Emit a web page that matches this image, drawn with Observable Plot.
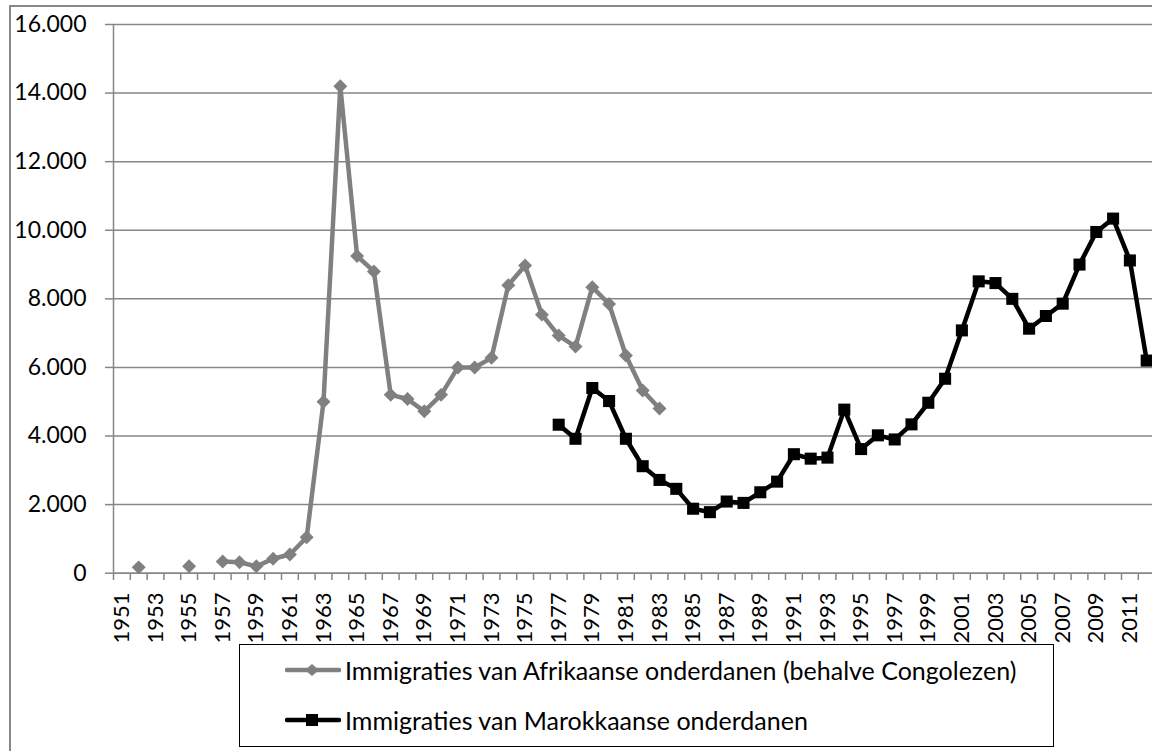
<!DOCTYPE html>
<html><head><meta charset="utf-8">
<script src="https://cdn.jsdelivr.net/npm/d3@7"></script>
<script src="https://cdn.jsdelivr.net/npm/@observablehq/plot@0.6"></script>
<style>
body{margin:0;background:#fff;}
#wrap{position:relative;width:1152px;height:751px;overflow:hidden;font-family:Lato,sans-serif;background:#fff;}
#frame{position:absolute;left:9px;top:5px;width:1300px;height:900px;border:2px solid #888;box-sizing:border-box;}
#chart{position:absolute;left:0;top:0;width:1152px;overflow:hidden;}
#legend{position:absolute;left:239px;top:644px;width:815px;height:103px;border:1.5px solid #000;box-sizing:border-box;background:#fff;font-family:Lato,sans-serif;font-size:25px;color:#000;}
.row{position:absolute;left:45px;height:30px;display:flex;align-items:center;white-space:nowrap;}
.row svg{margin-right:4px;}
</style></head>
<body>
<div id="wrap">
  <div id="frame"></div>
  <div id="chart"></div>
  <div id="legend"></div>
</div>
<script>
// Categories (years on the x axis)
const years = d3.range(1951, 2013);
const labelYears = years.filter(y => y % 2 === 1);
const yTicks = [0, 2000, 4000, 6000, 8000, 10000, 12000, 14000, 16000];

// Series 1: Immigraties van Afrikaanse onderdanen (behalve Congolezen)
const afrYears = [1951,1952,1953,1954,1955,1956,1957,1958,1959,1960,1961,1962,1963,1964,1965,1966,1967,1968,1969,1970,1971,1972,1973,1974,1975,1976,1977,1978,1979,1980,1981,1982,1983];
const afrValues = [null,170,null,null,200,null,340,320,200,420,545,1050,5000,14200,9250,8800,5200,5080,4720,5200,6000,6000,6280,8400,8970,7540,6930,6610,8340,7850,6350,5330,4800];

// Series 2: Immigraties van Marokkaanse onderdanen
const marYears = [1977,1978,1979,1980,1981,1982,1983,1984,1985,1986,1987,1988,1989,1990,1991,1992,1993,1994,1995,1996,1997,1998,1999,2000,2001,2002,2003,2004,2005,2006,2007,2008,2009,2010,2011,2012];
const marValues = [4330,3920,5400,5020,3920,3120,2720,2460,1880,1780,2090,2050,2360,2670,3470,3340,3370,4770,3620,4020,3900,4340,4970,5670,7080,8510,8460,8000,7130,7500,7860,9000,9950,10340,9120,6200];

const seriesNames = ["Immigraties van Afrikaanse onderdanen (behalve Congolezen)", "Immigraties van Marokkaanse onderdanen"];
const seriesColors = ["#808080", "#000000"];

const afr = afrYears.map((y, i) => ({year: y, value: afrValues[i]}));
const mar = marYears.map((y, i) => ({year: y, value: marValues[i]}));
const boundaries = [years[0] - 0.5, ...years.map(y => y + 0.5)];

const fmt = d3.formatLocale({decimal: ",", thousands: ".", grouping: [3], currency: ["", ""]}).format(",");
const gridColor = "#868686";
const bandW = 16.8, left = 113;

const chart = Plot.plot({
  width: 1152, height: 660,
  marginLeft: left, marginRight: 0, marginTop: 24, marginBottom: 87,
  style: {fontFamily: "Lato, sans-serif", fontSize: "22px", color: "#000", background: "transparent"},
  x: {type: "linear", domain: [boundaries[0], boundaries[boundaries.length - 1]], range: [left, left + years.length * bandW]},
  y: {domain: [0, 16000], range: [572.7, 24]},
  marks: [
    Plot.gridY(yTicks, {stroke: gridColor, strokeOpacity: 1, strokeWidth: 1.5}),
    Plot.ruleX([boundaries[0]], {y1: 0, y2: 16000, stroke: gridColor, strokeWidth: 1.5}),
    Plot.ruleY([0], {stroke: gridColor, strokeWidth: 1.5}),
    Plot.axisY(yTicks, {tickSize: 8, tickPadding: 19, tickFormat: fmt, stroke: gridColor, strokeWidth: 1.5, fill: "#000", fontSize: 23, label: null}),
    Plot.axisX(boundaries, {tickSize: 7, tickFormat: () => "", stroke: gridColor, strokeWidth: 1.5, label: null}),
    Plot.axisX(labelYears, {tickSize: 0, tickPadding: 19, tickRotate: -90, tickFormat: d => String(d), fill: "#000", fontSize: 22, label: null}),
    Plot.line(afr, {x: "year", y: "value", stroke: seriesColors[0], strokeWidth: 4.5}),
    Plot.dot(afr, {x: "year", y: "value", symbol: "diamond2", fill: seriesColors[0], stroke: "none", r: 6.3}),
    Plot.line(mar, {x: "year", y: "value", stroke: seriesColors[1], strokeWidth: 4.5}),
    Plot.dot(mar, {x: "year", y: "value", symbol: "square", fill: seriesColors[1], stroke: "none", r: 6.8})
  ]
});
document.getElementById("chart").appendChild(chart);

// Legend
const legend = document.getElementById("legend");
const rowsTop = [10, 60];
seriesNames.forEach((name, i) => {
  const row = document.createElement("div");
  row.className = "row";
  row.style.top = rowsTop[i] + "px";
  const marker = i === 0
    ? `<path d="M27,9 L34,15 L27,21 L20,15 Z" fill="${seriesColors[i]}"/>`
    : `<rect x="21" y="9" width="12" height="12" fill="${seriesColors[i]}"/>`;
  row.innerHTML = `<svg width="56" height="30"><line x1="2" x2="54" y1="15" y2="15" stroke="${seriesColors[i]}" stroke-width="4.5" stroke-linecap="round"/>${marker}</svg><span>${name}</span>`;
  legend.appendChild(row);
});
</script>
</body></html>
